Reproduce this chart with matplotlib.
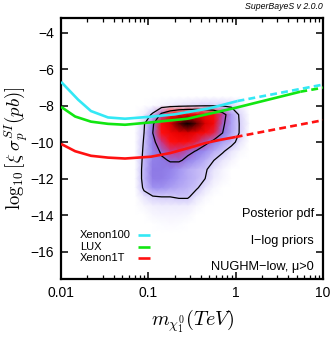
import numpy as np
import matplotlib
matplotlib.use("Agg")
import matplotlib.pyplot as plt
from matplotlib.colors import LinearSegmentedColormap

# ---------------- data ----------------
# Direct-detection limits (x in TeV, y = log10 sigma)
xenon100_x = [0.01, 0.0157, 0.022, 0.0345, 0.054, 0.1, 0.2, 0.5, 1.05, 10.0]
xenon100_y = [-6.7, -7.68, -8.3, -8.65, -8.72, -8.62, -8.48, -8.15, -7.75, -6.85]
xenon100_solid_until = 1.05

lux_x = [0.01, 0.0145, 0.022, 0.0345, 0.054, 0.107, 0.28, 1.0, 5.5, 10.0]
lux_y = [-8.07, -8.6, -8.88, -9.0, -9.05, -8.92, -8.72, -8.12, -7.24, -7.02]
lux_solid_until = 5.5

xenon1t_x = [0.01, 0.0145, 0.022, 0.0345, 0.054, 0.107, 0.178, 0.3, 0.45, 0.66, 1.0, 10.0]
xenon1t_y = [-10.1, -10.5, -10.75, -10.85, -10.9, -10.8, -10.6, -10.3, -10.05, -9.88, -9.72, -8.8]
xenon1t_solid_until = 1.0

limit_names = ["Xenon100", "LUX", "Xenon1T"]
limit_colors = ["#33e8f5", "#11e611", "#ff1111"]

# Posterior pdf grid (relative density), columns = log10(m/TeV), rows = log10 sigma
dens_logx = [-1.15, -1.05, -0.95, -0.85, -0.75, -0.65, -0.55, -0.45, -0.35, -0.25, -0.15, -0.05, 0.05, 0.15]
dens_y = [-7.5, -8.0, -8.5, -9.0, -9.5, -10.0, -10.5, -11.0, -11.5, -12.0, -12.5, -13.0, -13.5, -14.0, -14.5, -15.0]
dens = [
    [0, 0, 0, 0, 0, 0, 0, 0, 0, 0, 0, 0, 0, 0],
    [0, 0, 0.01, 0.03, 0.05, 0.06, 0.07, 0.08, 0.09, 0.09, 0.09, 0.08, 0.04, 0],
    [0, 0.04, 0.12, 0.35, 0.48, 0.58, 0.62, 0.62, 0.56, 0.5, 0.36, 0.19, 0.08, 0.01],
    [0.01, 0.09, 0.28, 0.5, 0.7, 0.88, 1.0, 0.88, 0.7, 0.55, 0.33, 0.18, 0.09, 0.02],
    [0.01, 0.1, 0.3, 0.45, 0.58, 0.68, 0.7, 0.62, 0.52, 0.42, 0.3, 0.17, 0.09, 0.01],
    [0.01, 0.11, 0.27, 0.38, 0.45, 0.5, 0.48, 0.42, 0.34, 0.26, 0.18, 0.13, 0.06, 0],
    [0.01, 0.12, 0.24, 0.32, 0.38, 0.38, 0.34, 0.29, 0.22, 0.16, 0.11, 0.06, 0.02, 0],
    [0.01, 0.13, 0.26, 0.28, 0.31, 0.32, 0.26, 0.2, 0.15, 0.1, 0.06, 0.03, 0, 0],
    [0.01, 0.14, 0.28, 0.28, 0.25, 0.2, 0.16, 0.13, 0.11, 0.06, 0.03, 0, 0, 0],
    [0.01, 0.14, 0.27, 0.27, 0.23, 0.19, 0.16, 0.13, 0.1, 0.05, 0.02, 0, 0, 0],
    [0.01, 0.12, 0.21, 0.21, 0.18, 0.16, 0.14, 0.11, 0.06, 0.02, 0, 0, 0, 0],
    [0, 0.06, 0.09, 0.1, 0.1, 0.11, 0.11, 0.06, 0.02, 0, 0, 0, 0, 0],
    [0, 0.02, 0.04, 0.05, 0.05, 0.05, 0.05, 0.02, 0, 0, 0, 0, 0, 0],
    [0, 0, 0.02, 0.03, 0.03, 0.03, 0.02, 0, 0, 0, 0, 0, 0, 0],
    [0, 0, 0, 0.01, 0.015, 0.01, 0, 0, 0, 0, 0, 0, 0, 0],
    [0, 0, 0, 0, 0, 0, 0, 0, 0, 0, 0, 0, 0, 0],
]
contour_levels = [0.1, 0.3]

x_ticks = [0.01, 0.1, 1, 10]
x_ticklabels = ["0.01", "0.1", "1", "10"]
y_ticks = [-16, -14, -12, -10, -8, -6, -4]

# ---------------- plot ----------------
plt.rcParams["font.family"] = ["Liberation Sans", "DejaVu Sans"]
plt.rcParams["mathtext.fontset"] = "cm"

fig = plt.figure(figsize=(3.32, 3.39), dpi=100)
ax = fig.add_axes([0.184, 0.177, 0.789, 0.770])

cmap = LinearSegmentedColormap.from_list(
    "sb",
    [(0.0, "#ffffff"), (0.05, "#eeebfd"), (0.12, "#c6bcf8"), (0.22, "#9a8bf0"),
     (0.3, "#8a74e2"), (0.37, "#c03c98"), (0.45, "#ff1010"), (0.68, "#e80000"),
     (0.84, "#800000"), (0.95, "#200000"), (1.0, "#000000")])

X = 10 ** np.array(dens_logx)
Y = np.array(dens_y)
Z = np.array(dens)
XX, YY = np.meshgrid(X, Y)
ax.pcolormesh(XX, YY, Z, shading="gouraud", cmap=cmap, vmin=0, vmax=1, zorder=1)
ax.contour(XX, YY, Z, levels=contour_levels, colors="black", linewidths=0.9, zorder=2)

def draw_limit(xs, ys, until, color):
    xs = np.array(xs); ys = np.array(ys)
    s = xs <= until
    d = xs >= until
    ax.plot(xs[s], ys[s], color=color, lw=1.9, solid_capstyle="butt", zorder=3)
    ax.plot(xs[d], ys[d], color=color, lw=1.9, ls=(0, (2.6, 1.6)), zorder=3)

draw_limit(xenon100_x, xenon100_y, xenon100_solid_until, limit_colors[0])
draw_limit(lux_x, lux_y, lux_solid_until, limit_colors[1])
draw_limit(xenon1t_x, xenon1t_y, xenon1t_solid_until, limit_colors[2])

ax.set_xscale("log")
ax.set_xlim(0.01, 10)
ax.set_ylim(-17.5, -3.2)
ax.set_xticks(x_ticks)
ax.set_xticklabels(x_ticklabels)
ax.set_yticks(y_ticks)
ax.tick_params(which="both", direction="in", top=True, right=True, labelsize=10)
ax.tick_params(which="major", length=5, width=1.1, pad=5)
ax.tick_params(which="minor", length=3, width=0.9)
for sp in ax.spines.values():
    sp.set_linewidth(1.6)

ax.set_xlabel(r"$m_{\chi_1^0}(TeV)$", fontsize=14.5, labelpad=6)
ax.set_ylabel(r"$\log_{10}[\xi\;\sigma_p^{SI}(pb)]$", fontsize=13.5, labelpad=0)

# legend (manual)
leg_y = [0.169, 0.124, 0.081]
for name, col, yy in zip(limit_names, limit_colors, leg_y):
    ax.text(0.0725, yy, name, transform=ax.transAxes, fontsize=8, va="center", ha="left")
    ax.plot([0.294, 0.340], [yy, yy], transform=ax.transAxes, color=col, lw=1.9, solid_capstyle="butt")

ax.text(0.966, 0.249, "Posterior pdf", transform=ax.transAxes, fontsize=9.2, ha="right", va="center")
ax.text(0.966, 0.146, "l\u2212log priors", transform=ax.transAxes, fontsize=9.2, ha="right", va="center")
ax.text(0.966, 0.046, "NUGHM\u2212low, \u03bc>0", transform=ax.transAxes, fontsize=9.2, ha="right", va="center")

fig.text(0.973, 0.982, "SuperBayeS v 2.0.0", fontsize=6.3, style="italic", ha="right", va="center")

fig.savefig("out.png", dpi=100)
